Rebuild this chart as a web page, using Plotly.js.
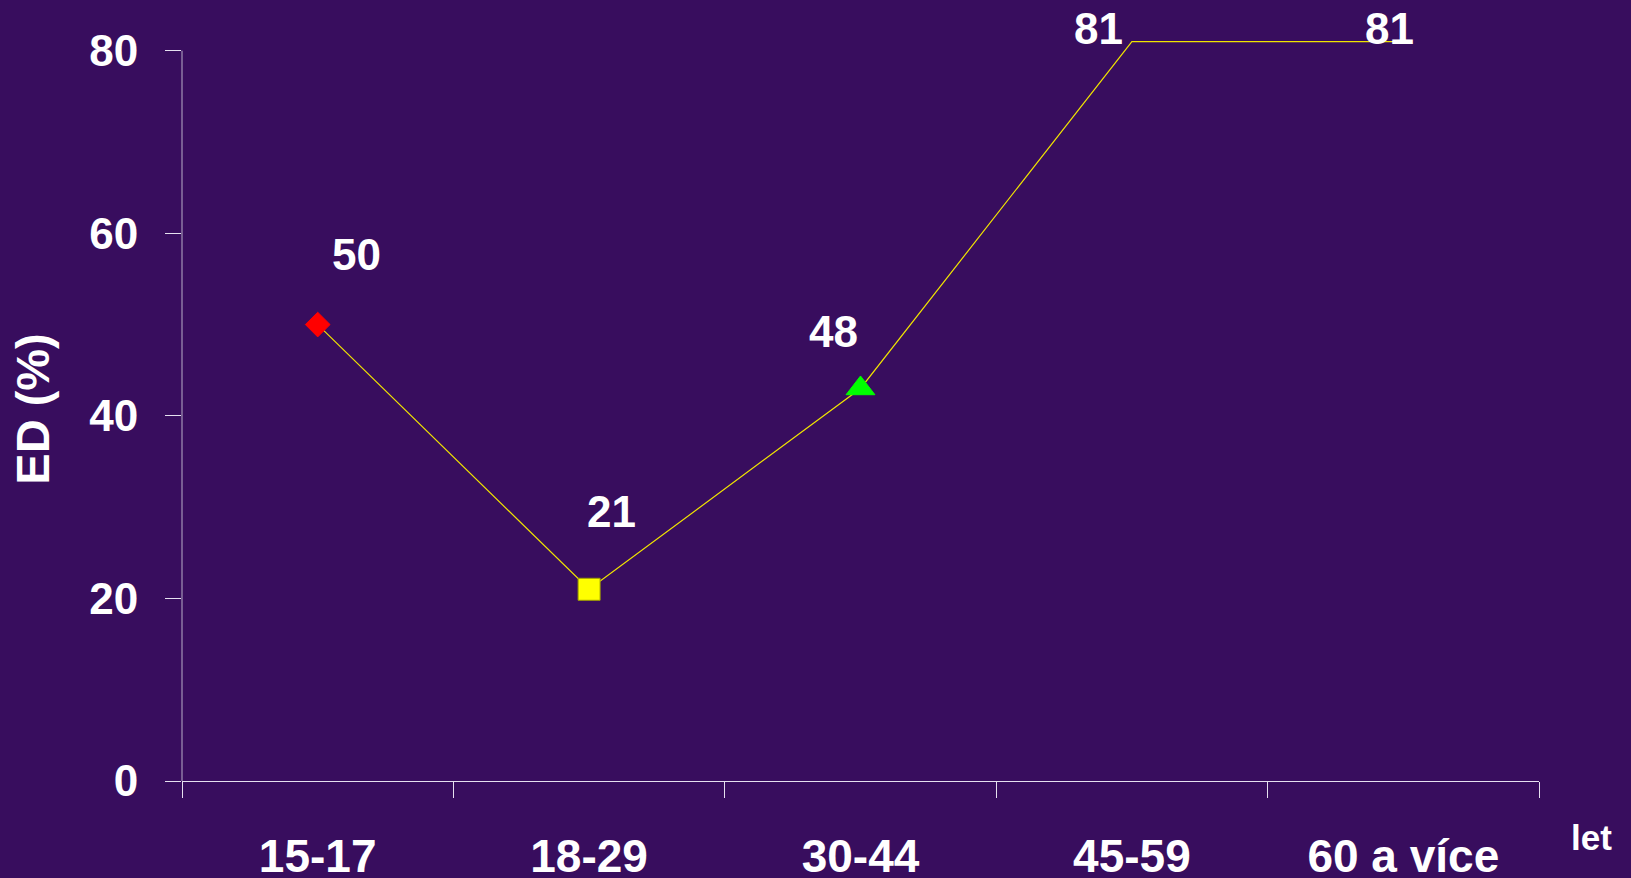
<!DOCTYPE html>
<html>
<head>
<meta charset="utf-8">
<script src="https://cdn.plot.ly/plotly-3.0.1.min.js"></script>
<style>
html,body{margin:0;padding:0;background:#380d5e;}
#chart{width:1631px;height:878px;}
</style>
</head>
<body>
<div id="chart"></div>
<script>
// Data
const categories = ['15-17', '18-29', '30-44', '45-59', '60 a více'];
const values = [50, 21, 43, 81, 81];
const valueLabels = ['50', '21', '48', '81', '81'];
const yTickValues = [0, 20, 40, 60, 80];
const yTitle = 'ED (%)';
const xUnit = 'let';

// Styles
const markerSymbols = ['diamond', 'square', 'triangle-up', 'circle', 'circle'];
const markerColors = ['#ff0000', '#ffff00', '#00ff00', '#ffff00', '#ffff00'];
const markerOpacity = [1, 1, 1, 0, 0];
const markerSizes = [19, 22, 25, 2, 2];
const markerLineColors = ['#ff0000', '#a0a000', '#00ff00', '#ffff00', '#ffff00'];
const labelShifts = [[39, 70], [22, 78], [-27, 57], [-33, 13], [-14, 13]];

const FONT = 'Liberation Sans, Arial, sans-serif';
const BG = '#380d5e';

const trace = {
  type: 'scatter',
  mode: 'lines+markers',
  x: categories,
  y: values,
  line: {color: '#f0e400', width: 1.2},
  marker: {
    symbol: markerSymbols,
    color: markerColors,
    opacity: markerOpacity,
    size: markerSizes,
    line: {color: markerLineColors, width: 1}
  },
  cliponaxis: false,
  hoverinfo: 'skip'
};

const annotations = categories.map((c, i) => ({
  x: c, y: values[i], xref: 'x', yref: 'y',
  text: valueLabels[i], showarrow: false,
  xshift: labelShifts[i][0], yshift: labelShifts[i][1],
  font: {family: FONT, size: 44, color: '#ffffff', weight: 'bold'}
}));
annotations.push({
  xref: 'paper', yref: 'paper', x: 1.055, y: -0.105,
  text: xUnit, showarrow: false,
  font: {family: FONT, size: 35, color: '#ffffff', weight: 'bold'}
});

const layout = {
  width: 1631, height: 878,
  paper_bgcolor: BG, plot_bgcolor: BG,
  margin: {l: 182, r: 92, t: 37, b: 97},
  showlegend: false,
  xaxis: {
    type: 'category',
    range: [-0.5, 4.5],
    tickson: 'boundaries',
    ticks: 'outside', ticklen: 16, tickwidth: 1, tickcolor: '#e6e0f0',
    showline: true, linecolor: '#e6e0f0', linewidth: 1,
    showgrid: false, zeroline: false,
    ticklabelstandoff: 35,
    tickfont: {family: FONT, size: 46, color: '#ffffff', weight: 'bold'},
    fixedrange: true
  },
  yaxis: {
    range: [0, 81.5],
    tickvals: yTickValues,
    ticks: 'outside', ticklen: 16, tickwidth: 1, tickcolor: '#e6e0f0',
    showline: false, showgrid: false, zeroline: false,
    ticklabelstandoff: 18,
    tickfont: {family: FONT, size: 44, color: '#ffffff', weight: 'bold'},
    title: {text: yTitle, standoff: 24, font: {family: FONT, size: 47, color: '#ffffff', weight: 'bold'}},
    fixedrange: true
  },
  shapes: [{
    type: 'line', xref: 'paper', yref: 'y',
    x0: 0, x1: 0, y0: 0, y1: 80,
    line: {color: '#b8b0c8', width: 1}
  }],
  annotations: annotations
};

Plotly.newPlot('chart', [trace], layout, {displayModeBar: false, staticPlot: true});
</script>
</body>
</html>
